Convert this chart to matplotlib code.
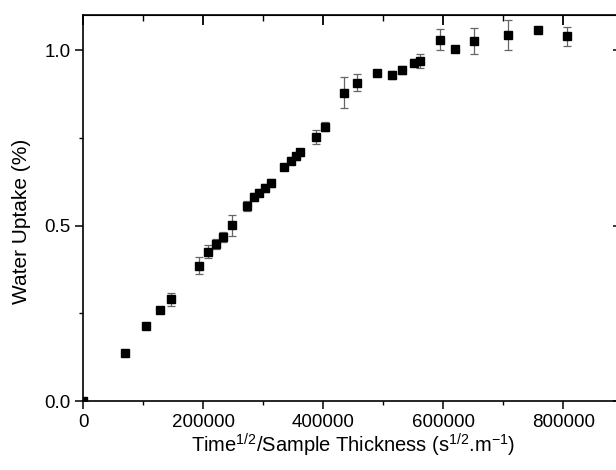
import numpy as np
from matplotlib import pyplot as plt

plt.rcParams['font.family'] = ['Liberation Sans', 'DejaVu Sans']
plt.rcParams['mathtext.fontset'] = 'custom'
plt.rcParams['mathtext.rm'] = 'Liberation Sans'
plt.rcParams['mathtext.it'] = 'Liberation Sans'

# time^1/2 / thickness  vs  water uptake
x_vals = [0, 70000, 104000, 127300, 146700, 192800, 207800, 220600, 232800,
          247300, 273300, 284500, 293300, 302800, 312300, 335000, 345600,
          354000, 361200, 387300, 402800, 434900, 455900, 488800, 515100,
          531600, 551300, 561800, 594000, 620000, 650500, 707400, 757400,
          806200]
uptake = [0.0, 0.138, 0.215, 0.259, 0.290, 0.386, 0.426, 0.447, 0.468,
          0.501, 0.556, 0.582, 0.594, 0.607, 0.622, 0.668, 0.685, 0.698,
          0.709, 0.751, 0.782, 0.879, 0.907, 0.935, 0.929, 0.943, 0.964,
          0.970, 1.030, 1.004, 1.026, 1.043, 1.057, 1.039]
err = [0.0, 0.005, 0.005, 0.008, 0.018, 0.025, 0.018, 0.015, 0.015, 0.03,
       0.015, 0.012, 0.01, 0.01, 0.012, 0.008, 0.01, 0.01, 0.01, 0.02,
       0.012, 0.044, 0.025, 0.008, 0.01, 0.012, 0.01, 0.02, 0.031, 0.005,
       0.038, 0.042, 0.008, 0.027]

fig = plt.figure(figsize=(6.16, 4.70), dpi=100)
ax = fig.add_axes([0.1352, 0.1468, 0.8766, 0.8213])

ax.errorbar(x_vals, uptake, yerr=err, fmt='none', ecolor='#666666',
            elinewidth=0.9, capsize=3, capthick=0.9, zorder=2)
ax.plot(x_vals, uptake, 's', color='black', markersize=6.4, zorder=3)

ax.set_xlim(0, 900000)
ax.set_ylim(0, 1.1)
ax.set_xticks([0, 200000, 400000, 600000, 800000])
ax.set_xticks([100000, 300000, 500000, 700000], minor=True)
ax.set_yticks([0.0, 0.5, 1.0])
ax.set_yticks([0.25, 0.75], minor=True)
ax.set_yticklabels(['0.0', '0.5', '1.0'])

for s in ax.spines.values():
    s.set_linewidth(1.2)

ax.tick_params(axis='both', which='major', labelsize=13.5, length=6,
               width=1.1, direction='out', colors='black', pad=3)
ax.tick_params(axis='both', which='minor', length=3, width=1.0,
               direction='out')
ax.tick_params(axis='both', which='both', top=False, right=False)

# mirrored ticks on top / right pointing inward
ax2 = ax.secondary_xaxis('top')
ax2.set_xticks([0, 200000, 400000, 600000, 800000], labels=[])
ax2.set_xticks([100000, 300000, 500000, 700000], minor=True)
ax2.tick_params(which='major', direction='in', length=7, width=1.3)
ax2.tick_params(which='minor', direction='in', length=4, width=1.0)
ay2 = ax.secondary_yaxis('right')
ay2.set_yticks([0.0, 0.5, 1.0], labels=[])
ay2.set_yticks([0.25, 0.75], minor=True)
ay2.tick_params(which='major', direction='in', length=7, width=1.1)
ay2.tick_params(which='minor', direction='in', length=4, width=1.0)

ax.set_xlabel('Time$^{1/2}$/Sample Thickness (s$^{1/2}$.m$^{-1}$)',
              fontsize=14.5, labelpad=1)
ax.set_ylabel('Water Uptake (%)', fontsize=15)
ax.yaxis.set_label_coords(-0.097, 0.465)

fig.savefig('out.png', dpi=100)
